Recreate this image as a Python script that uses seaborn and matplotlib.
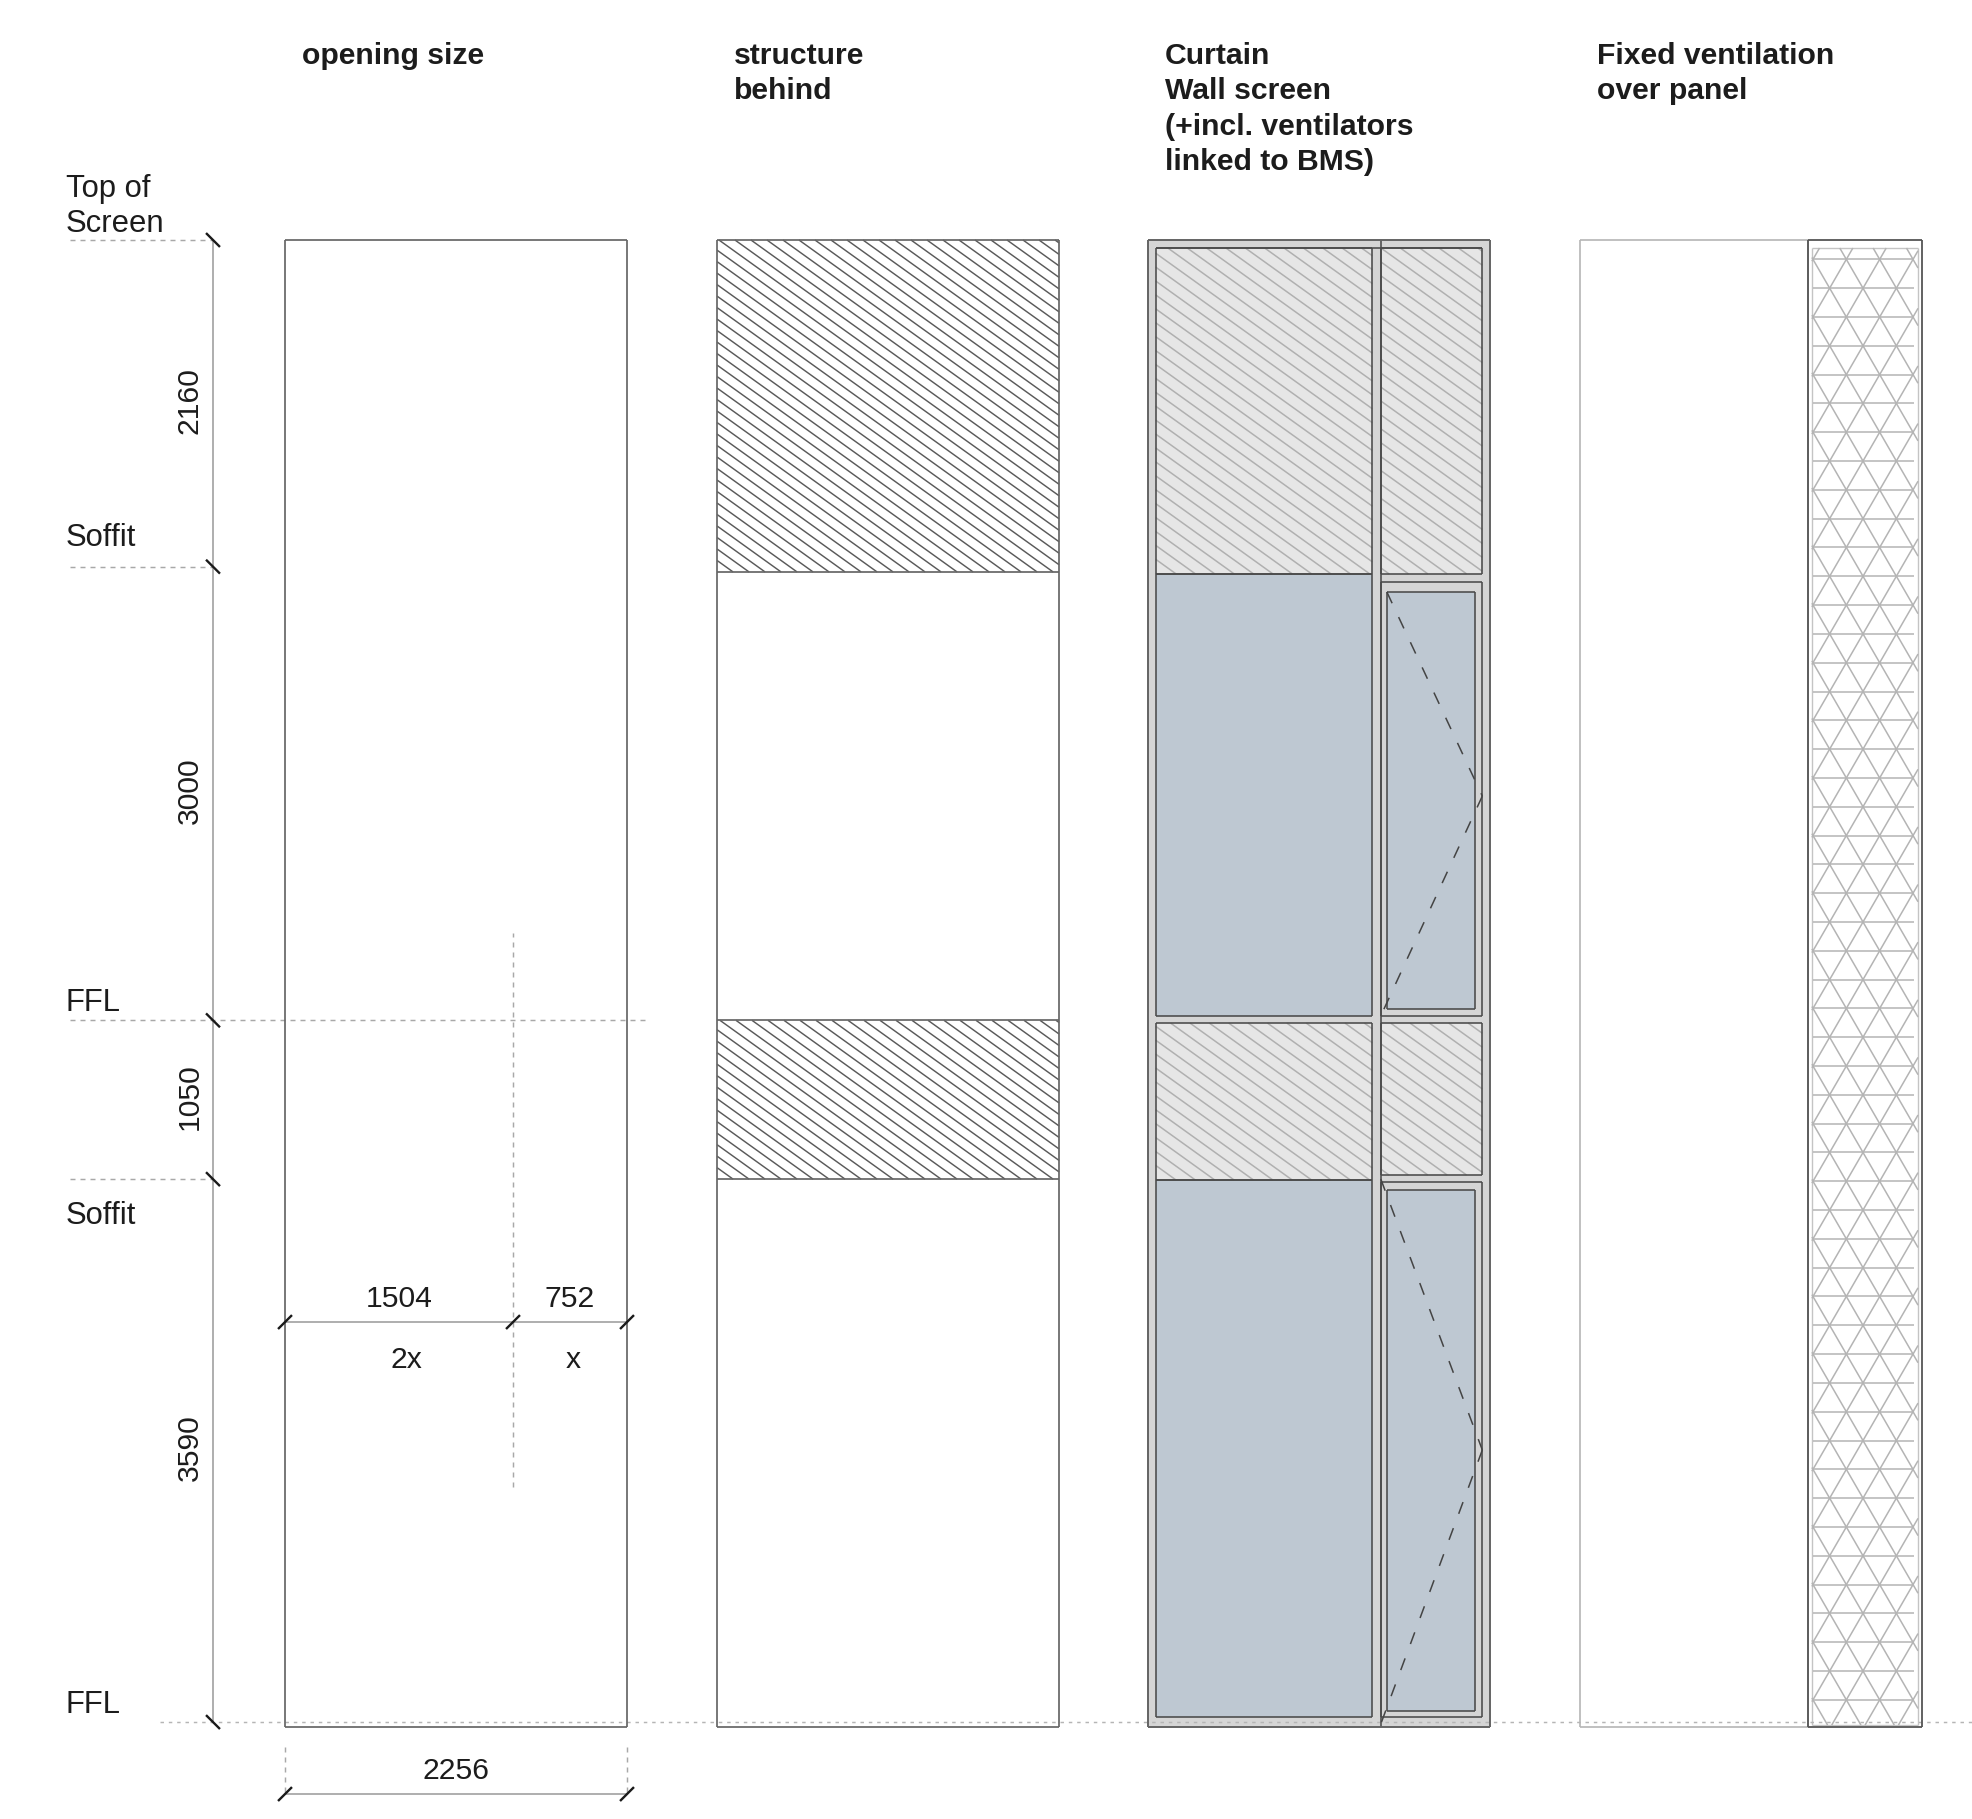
import numpy as np
import pandas as pd
import seaborn as sns
import matplotlib
matplotlib.use("Agg")
import matplotlib.pyplot as plt
from matplotlib.patches import Rectangle

opening_width = 2256
split_widths = [1504, 752]
split_notes = ["2x", "x"]
level_heights = [3590, 1050, 3000, 2160]
level_names = ["FFL", "Soffit", "FFL", "Soffit", "Screen"]
panel_titles = [
    ["opening size"],
    ["structure", "behind"],
    ["Curtain", "Wall screen", "(+incl. ventilators", "linked to BMS)"],
    ["Fixed ventilation", "over panel"],
]
panel_left = [0, 2850, 5693, 8542]
panel_bottom = -33

# curtain wall screen, frame edges
frame_x = [50, 1480, 1535, 1575, 2155, 2205]
frame_top = 9747
glass_left_upper = [7592, 4669]
glass_left_lower = [3584, 33]
hatch_left_mid = [4622, 3584]
hatch_right_mid = [4622, 3617]
vent_frame_upper = [7539, 4669]
vent_frame_lower = [3571, 33]
vent_glass_upper = [7473, 4715]
vent_glass_lower = [3518, 73]
vent_apex = [6123, 1799]

# structure bands and hatch
structure_upper_bottom = 7605
hatch_slope = 0.72
hatch_step_structure = 76
hatch_step_screen = 92

# ventilation mesh
mesh_first_row = 9672
mesh_row_step = 190.5
mesh_first_col = 1537
mesh_col_step = 220
mesh_box = [1530, 2230, -20, 9747]

levels = np.concatenate([[0], np.cumsum(level_heights)])
top = levels[-1]

sns.set_theme(style="white")
plt.rcParams["font.family"] = ["Liberation Sans", "DejaVu Sans"]
plt.rcParams["lines.scale_dashes"] = False
plt.rcParams["lines.solid_capstyle"] = "butt"
plt.rcParams["lines.dash_capstyle"] = "butt"

fig = plt.figure(figsize=(19.72, 18.19), dpi=100)
ax = fig.add_axes([0, 0, 1, 1])


def draw(segs, color, lw, z, ls="-"):
    rows = []
    for i, s in enumerate(segs):
        for x, y in s:
            rows.append({"seg": i, "x": x, "y": y})
    df = pd.DataFrame(rows)
    sns.lineplot(data=df, x="x", y="y", units="seg", estimator=None, sort=False,
                 errorbar=None, color=color, linewidth=lw, linestyle=ls,
                 legend=False, ax=ax, zorder=z)


def box(x0, x1, y0, y1):
    return [[(x0, y0), (x1, y0)], [(x1, y0), (x1, y1)], [(x1, y1), (x0, y1)], [(x0, y1), (x0, y0)]]


def fill(x0, x1, y0, y1, color, z=1):
    ax.add_patch(Rectangle((x0, y0), x1 - x0, y1 - y0, facecolor=color, edgecolor="none", zorder=z))


def clip_line(slope, c, x0, x1, y0, y1):
    # y = c + slope * x, cut to the box
    xa, xb = x0, x1
    lo = min((y0 - c) / slope, (y1 - c) / slope)
    hi = max((y0 - c) / slope, (y1 - c) / slope)
    xa, xb = max(xa, lo), min(xb, hi)
    if xa >= xb:
        return None
    return [(xa, c + slope * xa), (xb, c + slope * xb)]


def hatch(x0, x1, y0, y1, step, offset=0):
    segs = []
    base = -hatch_slope
    c = y0 + offset
    cmax = y1 - base * x1
    while c < cmax:
        s = clip_line(base, c, x0, x1, y0, y1)
        if s:
            segs.append(s)
        c += step
    return segs


# panel outlines
panel_lines = []
for px in panel_left[:3]:
    panel_lines += box(px, px + opening_width, panel_bottom, top)

# structure behind
sx = panel_left[1]
structure_hatch = hatch(sx, sx + opening_width, structure_upper_bottom, top, hatch_step_structure)
structure_hatch += hatch(sx, sx + opening_width, levels[1], levels[2], hatch_step_structure)
panel_lines += [[(sx, structure_upper_bottom), (sx + opening_width, structure_upper_bottom)],
                [(sx, levels[1]), (sx + opening_width, levels[1])],
                [(sx, levels[2]), (sx + opening_width, levels[2])]]
draw(structure_hatch, "#5a5a5a", 1.05, 3)

# curtain wall screen
cx = panel_left[2]
fx = [cx + v for v in frame_x]
fill(cx, cx + opening_width, panel_bottom, top, "#d5d5d5")
hatch_boxes = [(fx[0], fx[1], glass_left_upper[0], frame_top),
               (fx[2], fx[5], glass_left_upper[0], frame_top),
               (fx[0], fx[1], hatch_left_mid[1], hatch_left_mid[0]),
               (fx[2], fx[5], hatch_right_mid[1], hatch_right_mid[0])]
glass_boxes = [(fx[0], fx[1], glass_left_upper[1], glass_left_upper[0]),
               (fx[0], fx[1], glass_left_lower[1], glass_left_lower[0]),
               (fx[3], fx[4], vent_glass_upper[1], vent_glass_upper[0]),
               (fx[3], fx[4], vent_glass_lower[1], vent_glass_lower[0])]
screen_lines = box(cx, cx + opening_width, panel_bottom, top)
screen_hatch = []
for b in hatch_boxes:
    fill(*b, "#e6e6e6", 2)
    screen_hatch += hatch(*b, hatch_step_screen)
    screen_lines += box(*b)
for b in glass_boxes:
    fill(*b, "#bec8d2", 2)
    screen_lines += box(*b)
screen_lines += box(fx[2], fx[5], vent_frame_upper[1], vent_frame_upper[0])
screen_lines += box(fx[2], fx[5], vent_frame_lower[1], vent_frame_lower[0])
screen_lines += [[(fx[2], panel_bottom), (fx[2], top)],
                 [(fx[0], frame_top), (fx[5], frame_top)]]
draw(screen_hatch, "#b0b0b0", 1.1, 3)
draw(screen_lines, "#4a4a4a", 1.15, 5)

# opening sash marks on the two ventilators, each leg dashed from the hinge side
vent_dash = [
    [(fx[3], vent_glass_upper[0]), (fx[5], vent_apex[0])],
    [(fx[5], vent_apex[0]), (fx[2], vent_frame_upper[1])],
    [(fx[2], vent_frame_lower[0] + 20), (fx[5], vent_apex[1])],
    [(fx[5], vent_apex[1]), (fx[2], panel_bottom + 20)],
]
draw(vent_dash, "#444444", 1.1, 6, ls=(0, (9, 11)))

# fixed ventilation panel
vx = panel_left[3]
vent_split = vx + split_widths[0]
vent_right = vx + opening_width
draw(box(vx, vent_split, panel_bottom, top), "#b5b5b5", 1.2, 4)
draw(box(vent_split, vent_right, panel_bottom, top), "#555555", 1.3, 5)
mx0, mx1 = vx + mesh_box[0], vx + mesh_box[1]
my0, my1 = mesh_box[2], mesh_box[3]
draw(box(mx0, mx1, my0, my1), "#c4c4c4", 1.0, 3)
mesh = []
row = mesh_first_row
while row > my0:
    mesh.append([(mx0 + 10, row), (mx1 - 25, row)])
    row -= mesh_row_step
slope = mesh_row_step / (mesh_col_step / 2)
for k in range(-60, 60):
    xa = vx + mesh_first_col + k * mesh_col_step
    for sl in (slope, -slope):
        s = clip_line(sl, mesh_first_row - sl * xa, mx0, mx1, my0, my1)
        if s:
            mesh.append(s)
draw(mesh, "#b4b4b4", 1.1, 3)

# dimension lines
dim_x = -475
dim_y = 2645
dim_low = -476
draw([[(dim_x, 0), (dim_x, top)],
      [(0, dim_y), (opening_width, dim_y)],
      [(0, dim_low), (opening_width, dim_low)]], "#a8a8a8", 1.3, 3)

tick = 46
ticks = [[(dim_x - tick, v + tick), (dim_x + tick, v - tick)] for v in levels]
for v in [0, split_widths[0], opening_width]:
    ticks.append([(v - tick, dim_y - tick), (v + tick, dim_y + tick)])
for v in [0, opening_width]:
    ticks.append([(v - tick, dim_low - tick), (v + tick, dim_low + tick)])
draw(ticks, "#1a1a1a", 1.7, 7)

dash = (0, (3.6, 3.6))
level_dash = [[(-1418, v), (dim_x, v)] for v in levels[1:]]
level_dash[levels[1:].tolist().index(levels[2])] = [(-1418, levels[2]), (2394, levels[2])]
level_dash += [[(v, -165), (v, dim_low)] for v in [0, opening_width]]
level_dash.append([(split_widths[0], 1554), (split_widths[0], 5218)])
draw(level_dash, "#a8a8a8", 1.05, 4, ls=dash)
draw([[(-825, 0), (11128, 0)]], "#b5b5b5", 1.05, 4, ls=(0, (2.5, 3.5)))
draw(panel_lines, "#666666", 1.25, 5)

# text
ink = "#1c1c1c"
fs = 21.7
for px, lines in zip(panel_left, panel_titles):
    for i, t in enumerate(lines):
        ax.text(px + 113, 10967 - i * 235, t, fontsize=fs, fontweight="bold", color=ink,
                ha="left", va="baseline")

label_x = -1445
for t, y in zip(["Top of", level_names[4], level_names[3], level_names[2], level_names[1], level_names[0]],
                [10085, 9853, 7778, 4703, 3295, 60]):
    ax.text(label_x, y, t, fontsize=22.3, color=ink, ha="left", va="baseline")

for lo, hi, h in zip(levels[:-1], levels[1:], level_heights):
    ax.text(-628, (lo + hi) / 2 + 20, str(h), fontsize=fs, color=ink, rotation=90,
            ha="center", va="center")

starts = np.concatenate([[0], np.cumsum(split_widths)[:-1]])
for s, w, note, dx in zip(starts, split_widths, split_notes, [52, 18]):
    ax.text(s + w / 2, 2746, str(w), fontsize=fs, color=ink, ha="center", va="baseline")
    ax.text(s + w / 2 + dx, 2341, note, fontsize=fs, color=ink, ha="center", va="baseline")
ax.text(opening_width / 2, -376, str(opening_width), fontsize=fs, color=ink, ha="center", va="baseline")

ax.set_xlim(-1880, 11128)
ax.set_ylim(-641, 11387)
ax.set_axis_off()
fig.savefig("out.png", dpi=100, facecolor="white")
